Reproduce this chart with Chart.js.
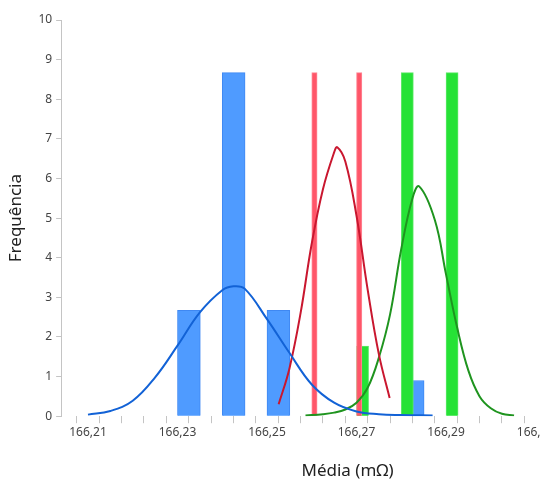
<!DOCTYPE html>
<html>
<head>
<meta charset="utf-8">
<script src="https://cdn.jsdelivr.net/npm/chart.js@4/dist/chart.umd.min.js"></script>
<style>
  html, body { margin: 0; padding: 0; background: #fff; overflow: hidden; }
  #wrap { position: relative; width: 640px; height: 481px; }
</style>
</head>
<body>
<div id="wrap"><canvas id="chart"></canvas></div>
<script>
// histogram bins: left edge of each bin and its height
const blueBinStart = [166.230, 166.240, 166.250, 166.280];
const blueBinHeight = [2.67, 8.67, 2.67, 0.9];
const blueBinWidth = 0.0051;

const greenBinStart = [166.270, 166.280, 166.290];
const greenBinHeight = [1.77, 8.67, 8.67];
const greenBinWidth = 0.0027;

const redBinStart = [166.260, 166.270];
const redBinHeight = [8.67, 8.67];
const redBinWidth = 0.0012;

// fitted curves
const blueCurveX = [166.210, 166.215, 166.220, 166.225, 166.230, 166.235, 166.240, 166.2425, 166.245, 166.250, 166.255, 166.260, 166.265, 166.270, 166.275, 166.280, 166.287];
const blueCurveY = [0.04, 0.13, 0.39, 0.98, 1.78, 2.62, 3.18, 3.28, 3.22, 2.45, 1.6, 0.8, 0.34, 0.12, 0.05, 0.03, 0.02];

const redCurveX = [166.2526, 166.255, 166.2575, 166.260, 166.2625, 166.265, 166.2657, 166.2675, 166.270, 166.2725, 166.275, 166.2774];
const redCurveY = [0.30, 1.2, 2.6, 4.36, 5.73, 6.66, 6.79, 6.43, 5.06, 3.19, 1.56, 0.46];

const greenCurveX = [166.2586, 166.2625, 166.265, 166.2675, 166.270, 166.2725, 166.275, 166.2775, 166.280, 166.2825, 166.284, 166.2875, 166.290, 166.2925, 166.295, 166.2975, 166.300, 166.3025, 166.3052];
const greenCurveY = [0.02, 0.05, 0.09, 0.17, 0.34, 0.72, 1.48, 2.57, 4.22, 5.5, 5.8, 4.95, 3.58, 2.23, 1.15, 0.5, 0.2, 0.06, 0.02];

// axes
const xMin = 166.204;
const xMax = 166.332;
const xMinorStep = 0.005;
const xLabelValues = [166.21, 166.23, 166.25, 166.27, 166.29, 166.31];
const xLabels = ['166,21', '166,23', '166,25', '166,27', '166,29', '166,31'];
const yTicks = [0, 1, 2, 3, 4, 5, 6, 7, 8, 9, 10];

const FONT = "'Noto Sans', 'Open Sans', sans-serif";

function bins(starts, heights, w) {
  return starts.map((s, i) => ({ x: s + w / 2, y: heights[i] }));
}
function curve(xs, ys) {
  return xs.map((x, i) => ({ x: x, y: ys[i] }));
}
// bar thickness follows the bin width on the x scale
function thickness(w) {
  return (ctx) => {
    const s = ctx.chart.scales.x;
    if (!s) return 10;
    return Math.abs(s.getPixelForValue(xMin + w) - s.getPixelForValue(xMin));
  };
}

const xTickValues = [];
for (let v = 166.205; v <= xMax + 1e-9; v += xMinorStep) xTickValues.push(+v.toFixed(3));

const lineStyle = { type: 'line', borderWidth: 2, pointRadius: 0, fill: false, tension: 0.4 };

new Chart(document.getElementById('chart'), {
  type: 'bar',
  data: {
    datasets: [
      Object.assign({ label: 'curva azul', data: curve(blueCurveX, blueCurveY), order: 0, borderColor: '#1262d6' }, lineStyle),
      Object.assign({ label: 'curva vermelha', data: curve(redCurveX, redCurveY), order: 1, borderColor: '#c9172f' }, lineStyle),
      Object.assign({ label: 'curva verde', data: curve(greenCurveX, greenCurveY), order: 2, borderColor: '#1f941f' }, lineStyle),
      {
        label: 'vermelho', data: bins(redBinStart, redBinHeight, redBinWidth), order: 3,
        backgroundColor: '#ff5669', borderColor: '#ff8795', borderWidth: 1,
        barThickness: thickness(redBinWidth), grouped: false
      },
      {
        label: 'verde', data: bins(greenBinStart, greenBinHeight, greenBinWidth), order: 4,
        backgroundColor: '#26e236', borderColor: '#5fe96a', borderWidth: 1,
        barThickness: thickness(greenBinWidth), grouped: false
      },
      {
        label: 'azul', data: bins(blueBinStart, blueBinHeight, blueBinWidth), order: 5,
        backgroundColor: '#4f9bff', borderColor: '#3f88f2', borderWidth: 1,
        barThickness: thickness(blueBinWidth), grouped: false
      }
    ]
  },
  options: {
    responsive: true,
    maintainAspectRatio: false,
    animation: false,
    layout: { padding: { left: 6, top: 20, right: 6, bottom: 0 } },
    plugins: {
      legend: { display: false },
      tooltip: { enabled: false }
    },
    scales: {
      x: {
        type: 'linear',
        offset: false,
        min: xMin,
        max: xMax,
        afterBuildTicks: (axis) => { axis.ticks = xTickValues.map((v) => ({ value: v })); },
        ticks: {
          autoSkip: false,
          maxRotation: 0,
          padding: 2,
          color: '#444',
          font: { family: FONT, size: 12 },
          callback: (v) => {
            const i = xLabelValues.findIndex((l) => Math.abs(l - v) < 1e-6);
            return i >= 0 ? xLabels[i] : '';
          }
        },
        grid: { drawOnChartArea: false, drawTicks: true, tickLength: 7, color: '#c4c4c4' },
        border: { display: false },
        title: {
          display: true, text: 'Média (mΩ)', color: '#222',
          font: { family: FONT, size: 17 }, padding: { top: 19, bottom: 0 }
        }
      },
      y: {
        min: 0,
        max: 10,
        afterBuildTicks: (axis) => { axis.ticks = yTicks.map((v) => ({ value: v })); },
        ticks: { color: '#444', font: { family: FONT, size: 12 }, padding: 4 },
        grid: { drawOnChartArea: false, drawTicks: true, tickLength: 5, color: '#c4c4c4' },
        border: { display: true, color: '#c4c4c4', width: 1 },
        title: {
          display: true, text: 'Frequência', color: '#222',
          font: { family: FONT, size: 17 }, padding: { top: 0, bottom: 8 }
        }
      }
    }
  }
});
</script>
</body>
</html>
